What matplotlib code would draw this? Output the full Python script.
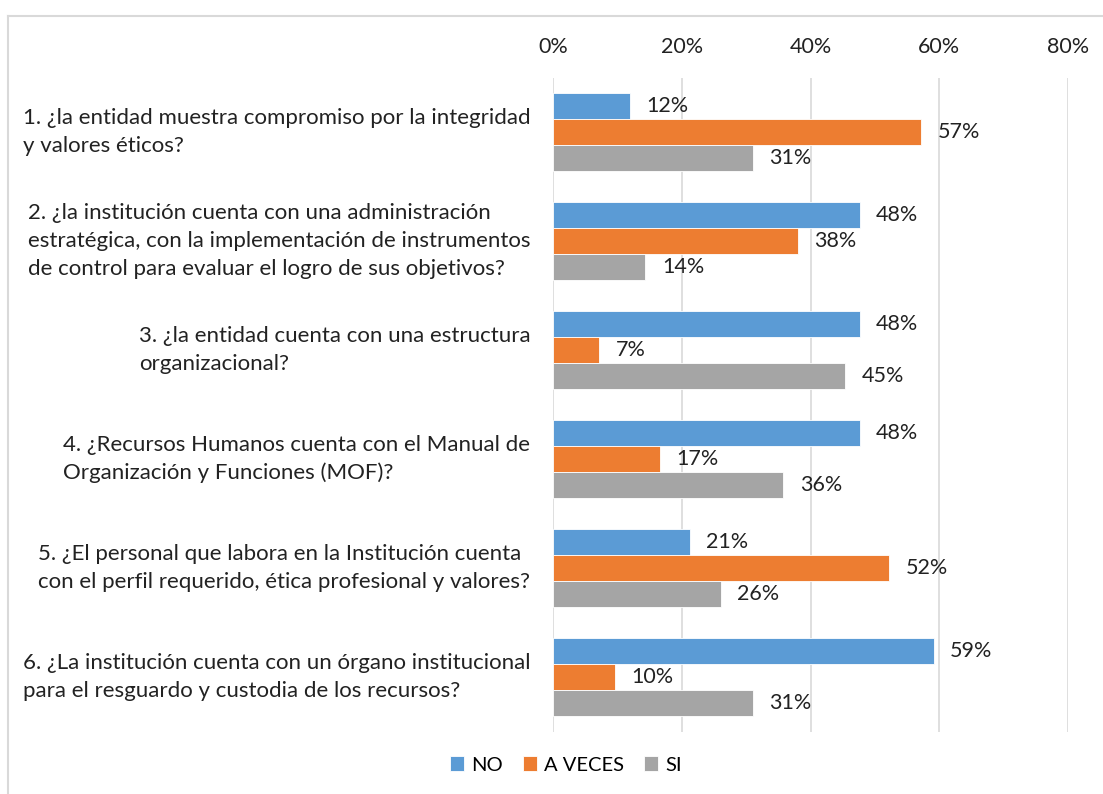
import matplotlib
matplotlib.use("Agg")
import matplotlib.pyplot as plt
from matplotlib.lines import Line2D
import numpy as np

plt.rcParams['font.family'] = ['Lato', 'DejaVu Sans']

categories = [
    "1. ¿la entidad muestra compromiso por la integridad\ny valores éticos?",
    "2. ¿la institución cuenta con una administración\nestratégica, con la implementación de instrumentos\nde control para evaluar el logro de sus objetivos?",
    "3. ¿la entidad cuenta con una estructura\norganizacional?",
    "4. ¿Recursos Humanos cuenta con el Manual de\nOrganización y Funciones (MOF)?",
    "5. ¿El personal que labora en la Institución cuenta\ncon el perfil requerido, ética profesional y valores?",
    "6. ¿La institución cuenta con un órgano institucional\npara el resguardo y custodia de los recursos?",
]
series_names = ["NO", "A VECES", "SI"]
no_vals = [11.9, 47.6, 47.6, 47.6, 21.2, 59.1]
aveces_vals = [57.2, 38.0, 7.1, 16.6, 52.2, 9.6]
si_vals = [31.0, 14.3, 45.4, 35.7, 26.0, 31.0]
xticks = [0, 20, 40, 60, 80]
colors = ["#5B9BD5", "#ED7D31", "#A5A5A5"]

W, H = 1103, 794
fig = plt.figure(figsize=(W / 100, H / 100), dpi=100)
ax = fig.add_axes([553.3 / W, 1 - 731.5 / H, (1068 - 553.3) / W, (731.5 - 77.5) / H])

y = np.arange(len(categories))
bh = 0.2385
offsets = [-bh, 0, bh]
fs = 15.5
cfs = 16
for vals, name, col, off in zip([no_vals, aveces_vals, si_vals], series_names, colors, offsets):
    bars = ax.barh(y + off, vals, height=bh, color=col, edgecolor="white", linewidth=0.6, label=name)
    for b, v in zip(bars, vals):
        ax.annotate(f"{round(v)}%", (b.get_width(), b.get_y() + b.get_height() / 2),
                    xytext=(12, 0), textcoords="offset points", va="center", ha="left",
                    fontsize=fs, color="#222222")

ax.set_xlim(0, 80)
ax.set_ylim(len(categories) - 0.5, -0.5)
ax.set_xticks(xticks)
ax.set_xticklabels([f"{t}%" for t in xticks], fontsize=fs, color="#222222")
ax.xaxis.tick_top()
ax.tick_params(axis="x", length=0, pad=14.5)
ax.set_yticks([])
for s in ax.spines.values():
    s.set_visible(False)
ax.grid(axis="x", color="#d9d9d9", linewidth=1.2)
ax.set_axisbelow(True)

for yi, cat in zip(y, categories):
    ax.annotate(cat, (0, yi), xytext=(-16.5, 0), textcoords="offset points",
                ha="right", va="center", multialignment="left", fontsize=cfs,
                color="#222222", linespacing=1.5, annotation_clip=False)

leg = fig.legend(loc="center", bbox_to_anchor=(566 / W, 1 - 765 / H), ncol=3, frameon=False,
                 fontsize=14.5, handlelength=0.7, handleheight=0.7, handletextpad=0.35,
                 columnspacing=1.0)

# figure border (top and left visible)
fig.add_artist(Line2D([8 / W, 1], [1 - 15.5 / H, 1 - 15.5 / H], color="#d9d9d9", lw=1.5, transform=fig.transFigure))
fig.add_artist(Line2D([8 / W, 8 / W], [0, 1 - 15.5 / H], color="#d9d9d9", lw=1.5, transform=fig.transFigure))

fig.savefig("out.png", dpi=100, facecolor="white")
